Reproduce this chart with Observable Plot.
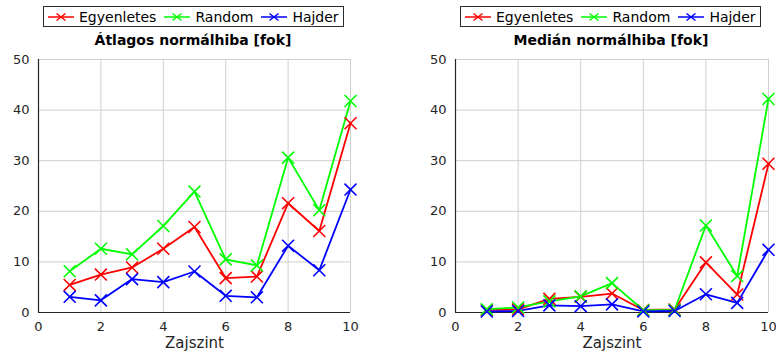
<!DOCTYPE html>
<html><head><meta charset="utf-8">
<script src="https://cdn.jsdelivr.net/npm/d3@7"></script>
<script src="https://cdn.jsdelivr.net/npm/@observablehq/plot@0.6"></script>
<style>
body{margin:0;background:#fff;font-family:"DejaVu Sans",sans-serif;}
#wrap{position:relative;width:776px;height:354px;overflow:hidden;}
.panel{position:absolute;top:0;width:388px;height:354px;}
.legend{position:absolute;top:6px;height:21px;width:301px;border:1px solid #2b2b2b;box-sizing:border-box;display:flex;align-items:center;font-size:14px;color:#000;background:#fff;}
.legend .item{display:flex;align-items:center;margin-left:4px;}
.legend svg{margin-right:5px;}
.title{position:absolute;top:32px;width:320px;font-weight:bold;font-size:14px;text-align:center;color:#000;}
.plot{position:absolute;top:50px;left:0;}
</style></head><body><div id="wrap"></div>
<script>
const levels = [1, 2, 3, 4, 5, 6, 7, 8, 9, 10];
const seriesNames = ["Egyenletes", "Random", "Hajder"];
const seriesColors = ["#ff0000", "#00ff00", "#0000ff"];
const xTicks = [0, 2, 4, 6, 8, 10];
const yTicks = [0, 10, 20, 30, 40, 50];
const xLabel = "Zajszint";
const titles = ["Átlagos normálhiba [fok]", "Medián normálhiba [fok]"];

// Átlagos normálhiba
const meanEgyenletes = [5.45, 7.5, 8.9, 12.6, 16.9, 6.8, 7.1, 21.6, 16.1, 37.4];
const meanRandom     = [8.15, 12.6, 11.5, 17.1, 23.9, 10.5, 9.3, 30.6, 20.2, 41.8];
const meanHajder     = [3.1, 2.4, 6.6, 6.0, 8.1, 3.3, 3.0, 13.2, 8.35, 24.3];

// Medián normálhiba
const medEgyenletes = [0.45, 0.6, 2.7, 3.1, 3.75, 0.5, 0.6, 9.9, 3.55, 29.4];
const medRandom     = [0.65, 1.0, 2.2, 3.2, 5.8, 0.45, 0.5, 17.2, 7.2, 42.2];
const medHajder     = [0.2, 0.3, 1.4, 1.25, 1.6, 0.2, 0.3, 3.6, 1.9, 12.4];

function tidy(arrs) {
  const rows = [];
  arrs.forEach((arr, i) => arr.forEach((v, j) => rows.push({level: levels[j], value: v, series: seriesNames[i]})));
  return rows;
}

const panels = [
  {rows: tidy([meanEgyenletes, meanRandom, meanHajder]), left: 0, mL: 38, mR: 38, legendLeft: 43, titleCenter: 193},
  {rows: tidy([medEgyenletes, medRandom, medHajder]), left: 388, mL: 67, mR: 8, legendLeft: 72, titleCenter: 223}
];

const wrap = document.getElementById("wrap");

panels.forEach((p, k) => {
  const panel = document.createElement("div");
  panel.className = "panel";
  panel.style.left = p.left + "px";
  wrap.appendChild(panel);

  const chart = Plot.plot({
    width: 388,
    height: 304,
    marginTop: 9,
    marginBottom: 42,
    marginLeft: p.mL,
    marginRight: p.mR,
    style: {fontFamily: "DejaVu Sans, sans-serif", fontSize: "13px", color: "#262626", background: "transparent", overflow: "visible"},
    x: {domain: [0, 10], label: null},
    y: {domain: [0, 50], label: null},
    color: {domain: seriesNames, range: seriesColors},
    marks: [
      Plot.gridX(xTicks, {stroke: "#cfcfcf", strokeOpacity: 1}),
      Plot.gridY(yTicks, {stroke: "#cfcfcf", strokeOpacity: 1}),
      Plot.axisX(xTicks, {tickSize: 0, tickPadding: 9, label: null}),
      Plot.axisY(yTicks, {tickSize: 0, tickPadding: 9, label: null}),
      Plot.ruleX([0], {stroke: "#262626", strokeWidth: 1.2}),
      Plot.ruleY([0], {stroke: "#262626", strokeWidth: 1.2}),
      Plot.line(p.rows, {x: "level", y: "value", stroke: "series", z: "series", strokeWidth: 1.8}),
      Plot.dot(p.rows, {x: "level", y: "value", stroke: "series", symbol: "times", r: 5.5, strokeWidth: 1.6}),
      Plot.text([xLabel], {frameAnchor: "bottom", dy: 35, text: d => d, fontSize: 15, fill: "#262626"})
    ]
  });
  chart.classList.add("plot");
  panel.appendChild(chart);

  const legend = document.createElement("div");
  legend.className = "legend";
  legend.style.left = p.legendLeft + "px";
  seriesNames.forEach((name, i) => {
    const item = document.createElement("div");
    item.className = "item";
    const c = seriesColors[i];
    item.innerHTML = `<svg width="26" height="12"><line x1="0" y1="6" x2="26" y2="6" stroke="${c}" stroke-width="1.5"/><path d="M8.5,2.5L17.5,9.5M8.5,9.5L17.5,2.5" stroke="${c}" stroke-width="1.5"/></svg><span>${name}</span>`;
    if (i > 0) item.style.marginLeft = "8px";
    legend.appendChild(item);
  });
  panel.appendChild(legend);

  const title = document.createElement("div");
  title.className = "title";
  title.style.left = (p.titleCenter - 160) + "px";
  title.textContent = titles[k];
  panel.appendChild(title);
});
</script>
</body></html>
